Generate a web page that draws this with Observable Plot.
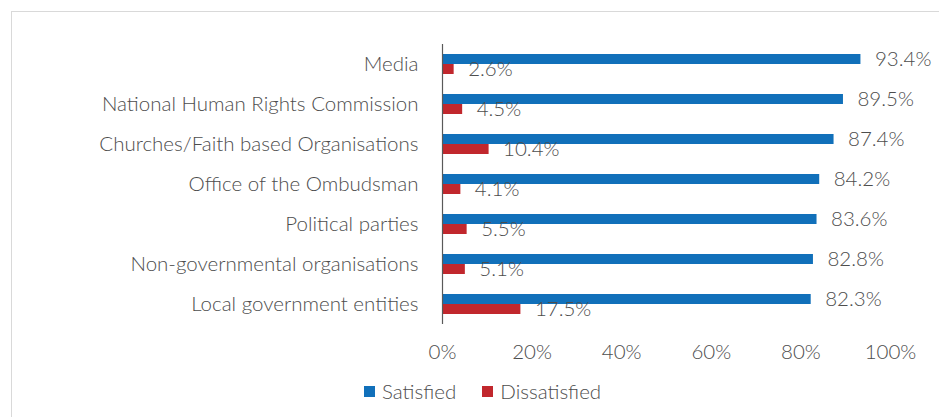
<!DOCTYPE html>
<html><head><meta charset="utf-8">
<script src="https://cdn.jsdelivr.net/npm/d3@7"></script>
<script src="https://cdn.jsdelivr.net/npm/@observablehq/plot@0.6"></script>
<style>
body{margin:0;background:#fff;overflow:hidden;font-family:Lato,sans-serif;}
#frame{position:absolute;left:11px;top:11px;width:1000px;height:500px;border:1px solid #d9d9d9;}
#chart{position:absolute;left:0;top:0;}
#legend{position:absolute;top:379px;left:364px;display:flex;align-items:center;font-size:20.5px;font-weight:300;color:#4d4d4d;line-height:24px;}
#legend .item{display:flex;align-items:center;margin-right:26px;}
#legend .sw{width:11px;height:11px;margin-right:7px;}
</style></head><body>
<div id="frame"></div><div id="chart"></div><div id="legend"></div>
<script>
const categories = [
  "Media",
  "National Human Rights Commission",
  "Churches/Faith based Organisations",
  "Office of the Ombudsman",
  "Political parties",
  "Non-governmental organisations",
  "Local government entities"
];
const satisfied = [93.4, 89.5, 87.4, 84.2, 83.6, 82.8, 82.3];
const dissatisfied = [2.6, 4.5, 10.4, 4.1, 5.5, 5.1, 17.5];
const seriesNames = ["Satisfied", "Dissatisfied"];
const seriesColors = ["#1170ba", "#c1272d"];
const xTicks = [0, 20, 40, 60, 80, 100];

const data = categories.flatMap((c, i) => [
  {category: c, series: seriesNames[0], value: satisfied[i]},
  {category: c, series: seriesNames[1], value: dissatisfied[i]}
]);

const chart = Plot.plot({
  width: 939, height: 375,
  marginTop: 42, marginBottom: 49, marginLeft: 442, marginRight: 49,
  style: {fontFamily: "Lato", fontSize: "20.5px", fontWeight: 300, color: "#4d4d4d", background: "transparent", overflow: "visible"},
  x: {domain: [0, 100], ticks: xTicks, tickFormat: d => d + "%", tickSize: 0, tickPadding: 20, label: null},
  fy: {domain: categories, padding: 0, label: null, tickSize: 0, tickPadding: 24, axis: "left"},
  y: {domain: seriesNames, paddingInner: 0, paddingOuter: 0.93, axis: null},
  color: {domain: seriesNames, range: seriesColors},
  marks: [
    Plot.barX(data, {fy: "category", y: "series", x: "value", fill: "series"}),
    Plot.text(data, {fy: "category", y: "series", x: "value", text: d => d.value.toFixed(1) + "%", textAnchor: "start", dx: 14}),
    Plot.ruleX([0], {stroke: "#595959", strokeWidth: 1.2})
  ]
});
document.getElementById("chart").appendChild(chart);

const legend = document.getElementById("legend");
seriesNames.forEach((name, i) => {
  const item = document.createElement("div");
  item.className = "item";
  const sw = document.createElement("span");
  sw.className = "sw";
  sw.style.background = seriesColors[i];
  const label = document.createElement("span");
  label.textContent = name;
  item.appendChild(sw);
  item.appendChild(label);
  legend.appendChild(item);
});
</script>
</body></html>
